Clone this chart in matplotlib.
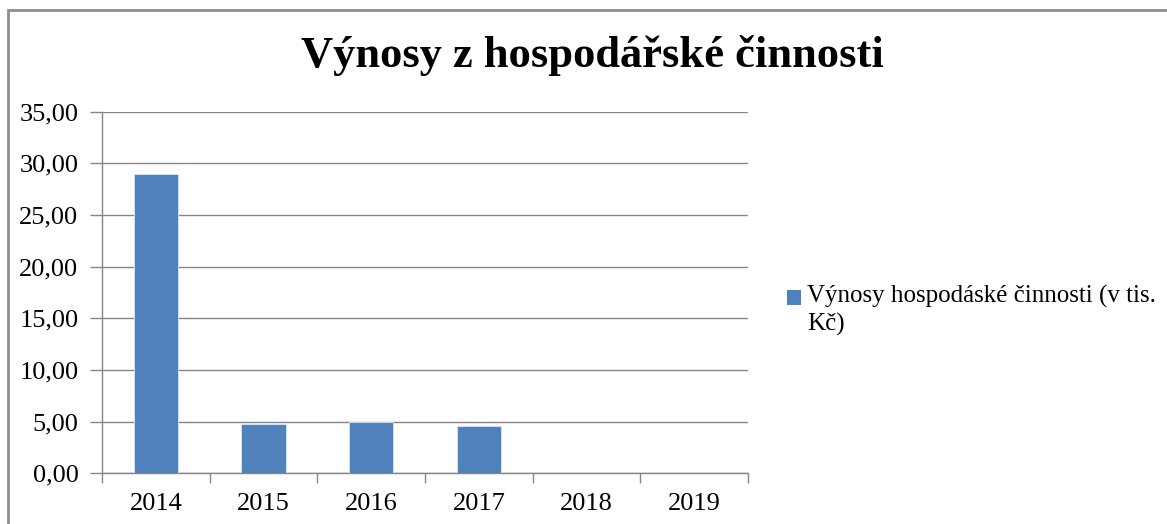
import numpy as np
import matplotlib.pyplot as plt
from matplotlib.patches import Rectangle, Patch
from matplotlib.legend_handler import HandlerPatch

# data
years = ['2014', '2015', '2016', '2017', '2018', '2019']
vynosy = [29.0, 4.75, 4.95, 4.55, 0.0, 0.0]
y_ticks = [0, 5, 10, 15, 20, 25, 30, 35]
title = 'Výnosy z hospodářské činnosti'
series_label = 'Výnosy hospodáské činnosti (v tis.\nKč)'

plt.rcParams['font.family'] = ['Liberation Serif', 'DejaVu Serif']
grey = '#868686'
blue = '#4F81BD'


def raised_square(legend, orig_handle, xdescent, ydescent, width, height, fontsize):
    # put the legend square next to the first line of the wrapped label
    return Rectangle((-xdescent, -ydescent + 0.5 * fontsize), width, height)


fig = plt.figure(figsize=(11.67, 5.24), dpi=100)
ax = fig.add_axes([102 / 1167, 1 - 473.3 / 524, 646 / 1167, 361.6 / 524])

x = np.arange(len(years))
ax.bar(x, vynosy, width=0.41, color=blue, edgecolor='#dce6f2', linewidth=0.6, zorder=3)

ax.set_xlim(-0.5, len(years) - 0.5)
ax.set_ylim(0, 35)
ax.set_yticks(y_ticks)
ax.set_yticklabels([f'{v:.2f}'.replace('.', ',') for v in y_ticks], fontsize=19)
ax.set_xticks(x)
ax.set_xticklabels(years, fontsize=19)
ax.set_xticks(np.arange(-0.5, len(years)), minor=True)
ax.tick_params(axis='x', which='major', length=0, pad=14)
ax.tick_params(axis='x', which='minor', length=7, color=grey, width=1)
ax.tick_params(axis='y', length=9, color=grey, width=1, pad=8)

ax.grid(axis='y', color=grey, linewidth=1, zorder=0)
for s in ['top', 'right']:
    ax.spines[s].set_visible(False)
for s in ['left', 'bottom']:
    ax.spines[s].set_color(grey)
    ax.spines[s].set_linewidth(1)

fig.text(592 / 1167, 1 - 56 / 524, title, ha='center', va='center',
         fontsize=32, fontweight='bold')

leg = fig.legend(handles=[Patch(facecolor=blue)], labels=[series_label],
                 loc='upper left', bbox_to_anchor=(787 / 1167, 1 - 285 / 524),
                 frameon=False, fontsize=18, handlelength=0.55, handleheight=0.55,
                 handletextpad=0.25, borderpad=0, borderaxespad=0,
                 handler_map={Patch: HandlerPatch(patch_func=raised_square)})
for t in leg.get_texts():
    t.set_linespacing(1.3)

# outer chart frame (cropped at right and bottom)
fig.patches.append(Rectangle((8 / 1167, -0.2), 1.2, 1.2 - 10 / 524,
                             transform=fig.transFigure, fill=False,
                             edgecolor='#8c8c8c', linewidth=2))

plt.savefig('out.png', dpi=100)
